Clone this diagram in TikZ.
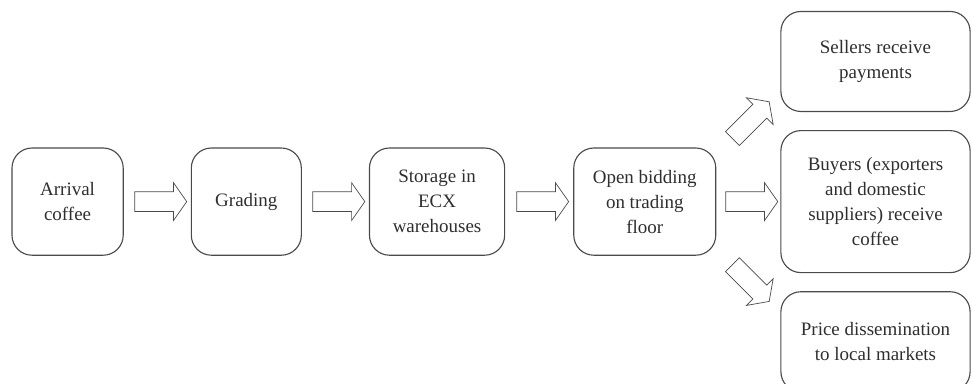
\documentclass[tikz,border=0pt]{standalone}
\usepackage{fontspec}
\setmainfont{Liberation Serif}
\usetikzlibrary{positioning,shapes.arrows,calc}
\definecolor{linegray}{HTML}{4A4A4A}
\definecolor{textgray}{HTML}{2E2E2E}

\begin{document}
\begin{tikzpicture}[
  stage/.style={draw=linegray, line width=0.8pt, rounded corners=0.5cm,
    minimum height=2.68cm, align=center, text=textgray,
    font=\fontsize{13.5}{17.8}\selectfont},
  outcome/.style={stage, minimum width=4.73cm},
  fat/.style={draw=linegray, line width=0.5pt, single arrow, inner xsep=0pt,
    inner ysep=0.2375cm, single arrow head extend=0.225cm,
    single arrow tip angle=110, minimum height=1.3cm}
  ]
  \useasboundingbox (0,0) rectangle (24.3,-9.575);
  % main row
  \node[stage, minimum width=2.78cm] (arrival) at (1.69,-5.04) {Arrival\\coffee};
  \node[stage, minimum width=2.75cm, right=1.675cm of arrival] (grading) {Grading};
  \node[stage, minimum width=3.38cm, right=1.675cm of grading] (storage) {Storage in\\ECX\\warehouses};
  \node[stage, minimum width=3.55cm, right=1.7cm of storage] (bid) {Open bidding\\on trading\\floor};
  % outcomes
  \node[outcome, minimum height=3.55cm, right=1.6cm of bid] (buyers) {Buyers (exporters\\and domestic\\suppliers) receive\\coffee};
  \node[outcome, minimum height=2.5cm, above=0.45cm of buyers] (sellers) {Sellers receive\\payments};
  \node[outcome, minimum height=2.5cm, below=0.45cm of buyers] (prices) {Price dissemination\\to local markets};
  % block arrows
  \node[fat] (a1) at ($(arrival.east)!0.5!(grading.west)$) {};
  \node[fat] (a2) at ($(grading.east)!0.5!(storage.west)$) {};
  \node[fat] (a3) at ($(storage.east)!0.5!(bid.west)$) {};
  \node[fat] (a4) at ($(bid.east)!0.5!(buyers.west)$) {};
  \node[fat, rotate=45] (a5) at ($(bid.east)!0.5!(buyers.west)+(0,1.975)$) {};
  \node[fat, rotate=-45] (a6) at ($(bid.east)!0.5!(buyers.west)-(0,1.975)$) {};
\end{tikzpicture}
\end{document}
